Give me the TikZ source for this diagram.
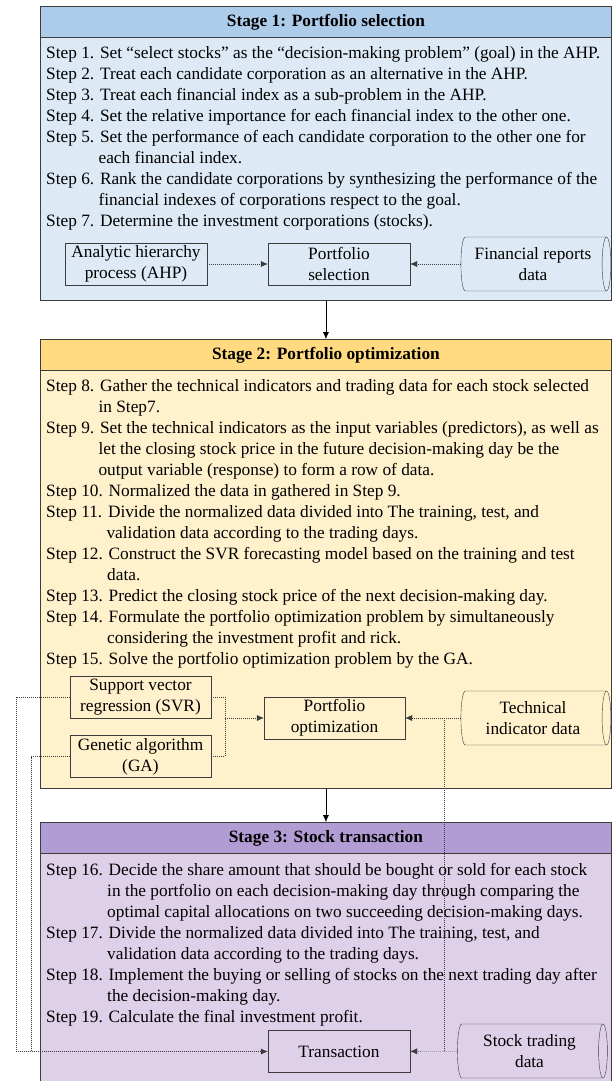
\documentclass[tikz,border=0pt]{standalone}
\usepackage{fontspec}
\setmainfont{Liberation Serif}
\usepackage{tikz}
\usetikzlibrary{arrows.meta, positioning, calc, shapes.geometric}
\definecolor{lineInk}{RGB}{60,60,60}
\definecolor{oneHead}{RGB}{173,204,234}
\definecolor{oneBody}{RGB}{221,234,246}
\definecolor{twoHead}{RGB}{255,218,128}
\definecolor{twoBody}{RGB}{255,241,204}
\definecolor{threeHead}{RGB}{178,156,212}
\definecolor{threeBody}{RGB}{222,208,232}
\newcommand{\hangas}[1]{\phantom{#1}\ }

\begin{document}
\begin{tikzpicture}[x=1pt,y=-1pt,
  stagebox/.style={draw=lineInk,thick,minimum width=571pt,anchor=north west,
                   inner sep=0pt},
  header/.style={draw=lineInk,thick,minimum width=571pt,minimum height=31pt,
                 anchor=north west,font=\fontsize{17.3}{19}\selectfont\bfseries},
  steps/.style={anchor=north west,inner sep=0pt,
                font=\fontsize{17.3}{21}\selectfont},
  tool/.style={draw=lineInk,minimum width=142pt,minimum height=42pt,
               align=center,inner sep=1pt,font=\fontsize{17.3}{21}\selectfont},
  store/.style={draw=lineInk,cylinder,aspect=0.25,minimum width=54pt,
                minimum height=150pt,align=center,inner sep=1pt,
                font=\fontsize{17.3}{21}\selectfont},
  link/.style={draw=lineInk,dash pattern=on 1pt off 1pt},
  linkto/.style={link,-{Latex[length=7pt,width=6pt]}},
  flow/.style={draw=black,-{Latex[length=7pt,width=6pt]}}]
\useasboundingbox (0,0) rectangle (613,1081);

% ===== STAGE 1: Portfolio selection =====
\node[stagebox,fill=oneBody,minimum height=294pt] (s1) at (40,6) {};
\node[header,fill=oneHead] (h1) at (40,6) {Stage 1: Portfolio selection};
\node[steps] (t1) at ($(h1.south west)+(6,6)$) {%
\begin{tabular}{@{}l@{}}
Step 1. Set “select stocks” as the “decision-making problem” (goal) in the AHP.\\
Step 2. Treat each candidate corporation as an alternative in the AHP.\\
Step 3. Treat each financial index as a sub-problem in the AHP.\\
Step 4. Set the relative importance for each financial index to the other one.\\
Step 5. Set the performance of each candidate corporation to the other one for\\
\hangas{Step 5.}each financial index.\\
Step 6. Rank the candidate corporations by synthesizing the performance of the\\
\hangas{Step 6.}financial indexes of corporations respect to the goal.\\
Step 7. Determine the investment corporations (stocks).
\end{tabular}};
\node[tool] (ahp) at (136,264) {Analytic hierarchy\\process (AHP)};
\node[tool] (psel) at (339,264) {Portfolio\\selection};
\node[store] (frd) at (533,264) {Financial reports\\data};
\draw[linkto] (ahp) -- (psel);
\draw[linkto] (frd) -- (psel);

% ===== STAGE 2: Portfolio optimization =====
\node[stagebox,fill=twoBody,minimum height=449pt] (s2) at (40,339) {};
\node[header,fill=twoHead] (h2) at (40,339) {Stage 2: Portfolio optimization};
\node[steps] (t2) at ($(h2.south west)+(6,6)$) {%
\begin{tabular}{@{}l@{}}
Step 8. Gather the technical indicators and trading data for each stock selected\\
\hangas{Step 8.}in Step7.\\
Step 9. Set the technical indicators as the input variables (predictors), as well as\\
\hangas{Step 9.}let the closing stock price in the future decision-making day be the\\
\hangas{Step 9.}output variable (response) to form a row of data.\\
Step 10. Normalized the data in gathered in Step 9.\\
Step 11. Divide the normalized data divided into The training, test, and\\
\hangas{Step 11.}validation data according to the trading days.\\
Step 12. Construct the SVR forecasting model based on the training and test\\
\hangas{Step 12.}data.\\
Step 13. Predict the closing stock price of the next decision-making day.\\
Step 14. Formulate the portfolio optimization problem by simultaneously\\
\hangas{Step 14.}considering the investment profit and rick.\\
Step 15. Solve the portfolio optimization problem by the GA.
\end{tabular}};
\node[tool,minimum width=141pt] (svr) at (140.5,697) {Support vector\\regression (SVR)};
\node[tool,minimum width=141pt] (ga) at (140.5,756.5) {Genetic algorithm\\(GA)};
\node[tool,minimum width=141pt] (popt) at (334.5,718) {Portfolio\\optimization};
\node[store] (tid) at (533,718) {Technical\\indicator data};
\coordinate (brk) at (225,718);
\draw[link] (svr.east) -| (brk) |- (ga.east);
\draw[linkto] (brk) -- (popt);
\draw[linkto] (tid) -- (popt);

% ===== STAGE 3: Stock transaction =====
\node[stagebox,fill=threeBody,minimum height=270pt] (s3) at (40,822) {};
\node[header,fill=threeHead] (h3) at (40,822) {Stage 3: Stock transaction};
\node[steps] (t3) at ($(h3.south west)+(6,7)$) {%
\begin{tabular}{@{}l@{}}
Step 16. Decide the share amount that should be bought or sold for each stock\\
\hangas{Step 16.}in the portfolio on each decision-making day through comparing the\\
\hangas{Step 16.}optimal capital allocations on two succeeding decision-making days.\\
Step 17. Divide the normalized data divided into The training, test, and\\
\hangas{Step 17.}validation data according to the trading days.\\
Step 18. Implement the buying or selling of stocks on the next trading day after\\
\hangas{Step 18.}the decision-making day.\\
Step 19. Calculate the final investment profit.
\end{tabular}};
\node[tool] (trans) at (339,1051.5) {Transaction};
\node[store] (std) at (529.5,1051) {Stock trading\\data};
\draw[linkto] (std) -- (trans);

% feedback from stage 2 into the transaction
\coordinate (tap) at (444,718);
\coordinate (lo) at (16,1051.5);
\coordinate (li) at (31,1051.5);
\draw[link] (tap) -- (tap |- trans.east);
\draw[linkto] (svr.west) -| (lo) -- (trans.west);
\draw[link] (ga.west) -| (li);

% stage to stage
\draw[flow] (s1.south) -- (s2.north);
\draw[flow] (s2.south) -- (s3.north);
\end{tikzpicture}
\end{document}
